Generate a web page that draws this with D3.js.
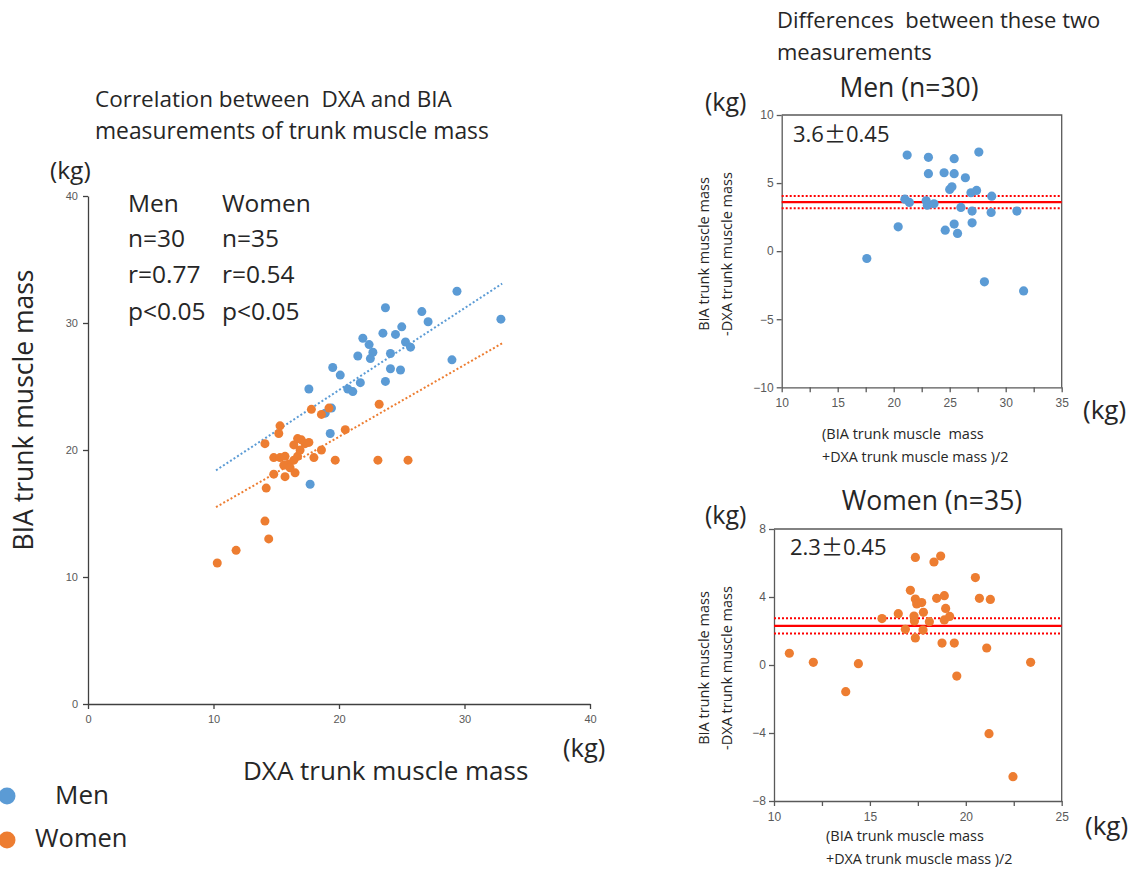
<!DOCTYPE html>
<html>
<head>
<meta charset="utf-8">
<script src="https://cdn.jsdelivr.net/npm/d3@7"></script>
<style>
  html, body { margin: 0; padding: 0; background: #ffffff; }
  svg { display: block; font-family: "Open Sans", "Noto Sans", sans-serif; }
</style>
</head>
<body>
<script>
// ---------------- DATA ----------------
// Main scatter: DXA (x) vs BIA (y) trunk muscle mass, kg
const menDXA = [29.4, 32.9, 23.7, 26.6, 27.1, 25.0, 24.5, 23.5, 21.9, 22.4, 25.3, 25.7, 22.7, 21.5, 22.5, 24.1, 19.5, 20.1, 24.1, 24.9, 29.0, 23.7, 21.7, 20.7, 21.1, 17.6, 19.4, 18.9, 19.3, 17.7];
const menBIA = [32.5, 30.3, 31.2, 30.9, 30.1, 29.7, 29.1, 29.2, 28.8, 28.3, 28.5, 28.1, 27.7, 27.4, 27.2, 27.6, 26.5, 25.9, 26.4, 26.3, 27.1, 25.4, 25.3, 24.8, 24.6, 24.8, 23.3, 22.9, 21.3, 17.3];
const womenDXA = [10.3, 11.8, 14.4, 14.1, 14.2, 14.8, 15.7, 16.5, 14.8, 15.3, 15.7, 16.0, 16.7, 16.4, 18.0, 19.7, 23.1, 25.5, 18.6, 14.1, 16.4, 16.7, 17.3, 17.6, 17.0, 20.5, 15.2, 15.3, 17.8, 18.6, 19.2, 23.2, 15.6, 16.1, 16.9];
const womenBIA = [11.1, 12.1, 13.0, 14.4, 17.0, 18.1, 17.9, 18.2, 19.4, 19.4, 19.5, 18.9, 19.5, 19.2, 19.4, 19.2, 19.2, 19.2, 20.0, 20.5, 20.4, 20.9, 20.5, 20.6, 20.8, 21.6, 21.3, 21.9, 23.2, 22.8, 23.3, 23.6, 18.8, 18.6, 20.0];
// Trend lines (endpoints)
const menTrendX = [10.2, 33.0];
const menTrendY = [18.4, 33.1];
const womenTrendX = [10.2, 33.0];
const womenTrendY = [15.5, 28.4];
// Stats text
const statHeaders = ["Men", "Women"];
const statMen = ["n=30", "r=0.77", "p<0.05"];
const statWomen = ["n=35", "r=0.54", "p<0.05"];
// Main axes
const mainTicks = [0, 10, 20, 30, 40];

// Bland-Altman Men
const menMeanX = [21.2, 23.1, 25.4, 27.6, 23.1, 24.5, 25.4, 26.4, 25.0, 25.2, 26.9, 27.4, 28.75, 21.0, 21.4, 22.9, 23.0, 23.6, 26.0, 27.0, 28.7, 31.0, 20.4, 25.4, 27.0, 24.6, 25.7, 17.6, 28.1, 31.6];
const menDiff = [7.06, 6.89, 6.79, 7.28, 5.69, 5.76, 5.69, 5.39, 4.53, 4.73, 4.29, 4.46, 4.04, 3.82, 3.58, 3.70, 3.38, 3.48, 3.21, 2.94, 2.84, 2.94, 1.79, 1.99, 2.08, 1.54, 1.30, -0.54, -2.25, -2.92];
const menBias = [3.6, 4.05, 3.15]; // mean, upper, lower
const menXTicks = [10, 12.5, 15, 17.5, 20, 22.5, 25, 27.5, 30, 32.5, 35];
const menYTicks = [-10, -5, 0, 5, 10];

// Bland-Altman Women
const womenMeanX = [10.8, 12.05, 13.74, 14.4, 15.63, 16.48, 16.85, 17.11, 17.3, 17.32, 17.37, 17.37, 17.44, 17.37, 17.7, 17.79, 17.77, 18.1, 18.34, 18.48, 18.69, 18.76, 18.88, 18.95, 18.88, 19.16, 19.4, 19.53, 20.5, 20.71, 21.28, 21.09, 21.21, 22.46, 23.38];
const womenDiff = [0.69, 0.16, -1.57, 0.08, 2.73, 3.02, 2.10, 4.39, 2.88, 2.59, 3.88, 6.33, 3.59, 1.59, 3.67, 3.10, 2.06, 2.55, 6.06, 3.92, 6.41, 1.29, 4.08, 3.33, 2.65, 2.86, 1.29, -0.65, 5.14, 3.92, 3.86, 1.00, -4.04, -6.57, 0.16];
const womenBias = [2.3, 2.75, 1.85];
const womenXTicks = [10, 12.5, 15, 17.5, 20, 22.5, 25];
const womenYTicks = [-8, -4, 0, 4, 8];

// ---------------- STYLE ----------------
const BLUE = "#5B9BD5", ORANGE = "#ED7D31", RED = "#FF0000";
const TXT = "#262626", AX = "#404040", TICKTXT = "#595959";

const svg = d3.select("body").append("svg").attr("width", 1132).attr("height", 870);

function txt(g, x, y, s, size, opts = {}) {
  const t = g.append("text").attr("x", x).attr("y", y).text(s)
    .attr("font-size", size).attr("fill", opts.fill || TXT)
    .attr("text-anchor", opts.anchor || "start")
    .attr("dominant-baseline", "middle")
    .style("white-space", "pre");
  if (opts.rotate) t.attr("transform", `rotate(${opts.rotate},${x},${y})`);
  return t;
}
function pmText(x, y, a, b, size) {
  const t = svg.append("text").attr("x", x).attr("y", y).attr("font-size", size)
    .attr("fill", TXT).attr("dominant-baseline", "middle");
  t.append("tspan").text(a);
  t.append("tspan").text("\u00B1").attr("font-family", "Noto Sans CJK JP");
  t.append("tspan").text(b);
}

function styleAxis(g, color, fs) {
  g.select(".domain").attr("stroke", color).attr("stroke-width", 1.3);
  g.selectAll(".tick line").attr("stroke", color).attr("stroke-width", 1.3);
  g.selectAll(".tick text").attr("fill", TICKTXT).attr("font-size", fs || 11);
}

// ---------------- MAIN SCATTER ----------------
const x = d3.scaleLinear().domain([0, 40]).range([88, 590]);
const y = d3.scaleLinear().domain([0, 40]).range([704, 196]);

const gx = svg.append("g").attr("transform", "translate(0,704)")
  .call(d3.axisBottom(x).tickValues(mainTicks).tickSize(5).tickSizeOuter(0).tickPadding(6));
styleAxis(gx, AX);
const gy = svg.append("g").attr("transform", "translate(88,0)")
  .call(d3.axisLeft(y).tickValues(mainTicks).tickSize(5).tickSizeOuter(0).tickPadding(5));
styleAxis(gy, AX);

// trend lines
const line = d3.line();
svg.append("path").attr("d", line(menTrendX.map((v, i) => [x(v), y(menTrendY[i])])))
  .attr("stroke", BLUE).attr("stroke-width", 2).attr("stroke-dasharray", "2,2.2").attr("fill", "none");
svg.append("path").attr("d", line(womenTrendX.map((v, i) => [x(v), y(womenTrendY[i])])))
  .attr("stroke", ORANGE).attr("stroke-width", 2).attr("stroke-dasharray", "2,2.2").attr("fill", "none");

svg.append("g").selectAll("circle").data(menDXA.map((v, i) => [v, menBIA[i]])).join("circle")
  .attr("cx", d => x(d[0])).attr("cy", d => y(d[1])).attr("r", 4.5).attr("fill", BLUE);
svg.append("g").selectAll("circle").data(womenDXA.map((v, i) => [v, womenBIA[i]])).join("circle")
  .attr("cx", d => x(d[0])).attr("cy", d => y(d[1])).attr("r", 4.5).attr("fill", ORANGE);

// texts main
txt(svg, 95, 101, "Correlation between  DXA and BIA", 22.5);
txt(svg, 95, 133, "measurements of trunk muscle mass", 22.8);
txt(svg, 50, 172, "(kg)", 24.5);
txt(svg, 26, 410, "BIA trunk muscle mass", 26.5, { anchor: "middle", rotate: -90 });
const statRows = [205, 240, 276, 313];
txt(svg, 128, statRows[0], statHeaders[0], 24.5);
txt(svg, 222, statRows[0], statHeaders[1], 24.5);
statMen.forEach((s, i) => txt(svg, 128, statRows[i + 1], s, 24.5));
statWomen.forEach((s, i) => txt(svg, 222, statRows[i + 1], s, 24.5));
txt(svg, 563, 750, "(kg)", 25.5);
txt(svg, 243, 773, "DXA trunk muscle mass", 26);

// legend
svg.append("circle").attr("cx", 7).attr("cy", 796).attr("r", 8.5).attr("fill", BLUE);
txt(svg, 55, 797, "Men", 26);
svg.append("circle").attr("cx", 7).attr("cy", 840).attr("r", 8.5).attr("fill", ORANGE);
txt(svg, 35, 840, "Women", 25.5);

// ---------------- BLAND-ALTMAN PANELS ----------------
function baPanel(cfg) {
  const xs = d3.scaleLinear().domain(cfg.xDomain).range([cfg.left, cfg.right]);
  const ys = d3.scaleLinear().domain(cfg.yDomain).range([cfg.bottom, cfg.top]);
  const g = svg.append("g");
  const ax = g.append("g").attr("transform", `translate(0,${cfg.bottom})`)
    .call(d3.axisBottom(xs).tickValues(cfg.xTicks).tickSize(5).tickSizeOuter(0).tickPadding(6)
      .tickFormat(d => d % 5 === 0 ? d : ""));
  styleAxis(ax, "#595959", 12);
  const ay = g.append("g").attr("transform", `translate(${cfg.left},0)`)
    .call(d3.axisLeft(ys).tickValues(cfg.yTicks).tickSize(5).tickSizeOuter(0).tickPadding(3));
  styleAxis(ay, "#595959", 12);
  // frame top / right
  g.append("path").attr("d", `M${cfg.left},${cfg.top}H${cfg.right}V${cfg.bottom}`)
    .attr("stroke", "#595959").attr("stroke-width", 1.3).attr("fill", "none");
  // bias lines
  g.append("line").attr("x1", cfg.left).attr("x2", cfg.right)
    .attr("y1", ys(cfg.bias[0])).attr("y2", ys(cfg.bias[0]))
    .attr("stroke", RED).attr("stroke-width", 2.2);
  [cfg.bias[1], cfg.bias[2]].forEach(v => {
    g.append("line").attr("x1", cfg.left).attr("x2", cfg.right)
      .attr("y1", ys(v)).attr("y2", ys(v))
      .attr("stroke", RED).attr("stroke-width", 2).attr("stroke-dasharray", "2,2");
  });
  g.append("g").selectAll("circle").data(cfg.xv.map((v, i) => [v, cfg.yv[i]])).join("circle")
    .attr("cx", d => xs(d[0])).attr("cy", d => ys(d[1])).attr("r", 4.6).attr("fill", cfg.color);
  return g;
}

baPanel({ xDomain: [10, 35], yDomain: [-10, 10], left: 781.7, right: 1061.7, top: 115, bottom: 387.3,
  xTicks: menXTicks, yTicks: menYTicks, bias: menBias, xv: menMeanX, yv: menDiff, color: BLUE });
baPanel({ xDomain: [10, 25], yDomain: [-8, 8], left: 774, right: 1061.7, top: 529, bottom: 801,
  xTicks: womenXTicks, yTicks: womenYTicks, bias: womenBias, xv: womenMeanX, yv: womenDiff, color: ORANGE });

// right texts
txt(svg, 777, 22, "Differences  between these two", 22);
txt(svg, 777, 54, "measurements", 22);
txt(svg, 909, 90, "Men (n=30)", 26.5, { anchor: "middle" });
txt(svg, 705, 104, "(kg)", 25);
pmText(793, 136, "3.6", "0.45", 22);
txt(svg, 705, 254, "BIA trunk muscle mass", 14.5, { anchor: "middle", rotate: -90 });
txt(svg, 728, 254, "-DXA trunk muscle mass", 14.5, { anchor: "middle", rotate: -90 });
txt(svg, 1083, 412, "(kg)", 26);
txt(svg, 822, 435, "(BIA trunk muscle  mass", 14.5);
txt(svg, 822, 458, "+DXA trunk muscle mass )/2", 14.3);

txt(svg, 932, 503, "Women (n=35)", 26.5, { anchor: "middle" });
txt(svg, 705, 517, "(kg)", 25);
pmText(790, 549, "2.3", "0.45", 22);
txt(svg, 705, 668, "BIA trunk muscle mass", 14.5, { anchor: "middle", rotate: -90 });
txt(svg, 728, 668, "-DXA trunk muscle mass", 14.5, { anchor: "middle", rotate: -90 });
txt(svg, 1085, 828, "(kg)", 26);
txt(svg, 826, 837, "(BIA trunk muscle mass", 14.5);
txt(svg, 826, 860, "+DXA trunk muscle mass )/2", 14.3);
</script>
</body>
</html>
